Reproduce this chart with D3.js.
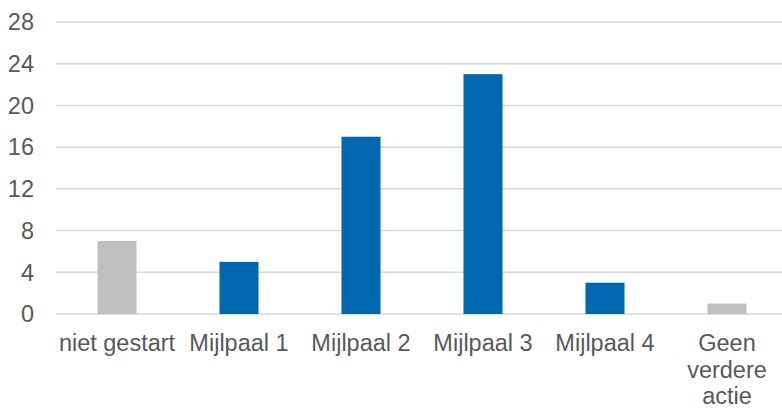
<!DOCTYPE html>
<html>
<head>
<meta charset="utf-8">
<script src="https://cdn.jsdelivr.net/npm/d3@7"></script>
<style>
    body { margin: 0; background: #fff; overflow: hidden; }
    svg { display: block; font-family: "Liberation Sans", Arial, sans-serif; }
    .tick-label { fill: #595959; font-size: 23.5px; }
    .grid-line { stroke: #d9d9d9; stroke-width: 1.5; }
</style>
</head>
<body>
<svg id="chart" width="782" height="408"></svg>
<script>
// Categories and values.
var categories = ["niet gestart", "Mijlpaal 1", "Mijlpaal 2", "Mijlpaal 3", "Mijlpaal 4", "Geen verdere actie"];
var categoryLines = [["niet gestart"], ["Mijlpaal 1"], ["Mijlpaal 2"], ["Mijlpaal 3"], ["Mijlpaal 4"], ["Geen", "verdere", "actie"]];
var values = [7, 5, 17, 23, 3, 1];
var highlighted = [false, true, true, true, true, false];
var yTicks = [0, 4, 8, 12, 16, 20, 24, 28];

var svg = d3.select("#chart");

// Plot area runs a little past the right edge, like the original.
var x = d3.scaleBand()
    .domain(categories)
    .range([56, 788])
    .paddingInner(0.68)
    .paddingOuter(0.34);
var y = d3.scaleLinear()
    .domain([0, 28])
    .range([314, 22]);

// Gridlines.
svg.append("g")
    .selectAll("line")
    .data(yTicks)
    .enter()
    .append("line")
    .attr("class", "grid-line")
    .attr("x1", 56)
    .attr("x2", 782)
    .attr("y1", function (d) { return y(d); })
    .attr("y2", function (d) { return y(d); });

// Y tick labels.
svg.append("g")
    .selectAll("text")
    .data(yTicks)
    .enter()
    .append("text")
    .attr("class", "tick-label")
    .attr("x", 34)
    .attr("y", function (d) { return y(d); })
    .attr("dy", "0.35em")
    .attr("text-anchor", "end")
    .text(function (d) { return d; });

// Bars.
svg.append("g")
    .selectAll("rect")
    .data(categories)
    .enter()
    .append("rect")
    .attr("x", function (d) { return x(d); })
    .attr("width", x.bandwidth())
    .attr("y", function (d, i) { return y(values[i]); })
    .attr("height", function (d, i) { return y(0) - y(values[i]); })
    .attr("fill", function (d, i) { return highlighted[i] ? "#0067b1" : "#bfbfbf"; });

// Category labels, wrapped where the original wraps.
var labels = svg.append("g")
    .selectAll("text")
    .data(categories)
    .enter()
    .append("text")
    .attr("class", "tick-label")
    .attr("text-anchor", "middle")
    .attr("transform", function (d) {
        return "translate(" + (x(d) + x.bandwidth() / 2) + ",351)";
    });
labels.each(function (d, i) {
    var node = d3.select(this);
    categoryLines[i].forEach(function (line, k) {
        node.append("tspan")
            .attr("x", 0)
            .attr("y", k * 26.5)
            .text(line);
    });
});
</script>
</body>
</html>
